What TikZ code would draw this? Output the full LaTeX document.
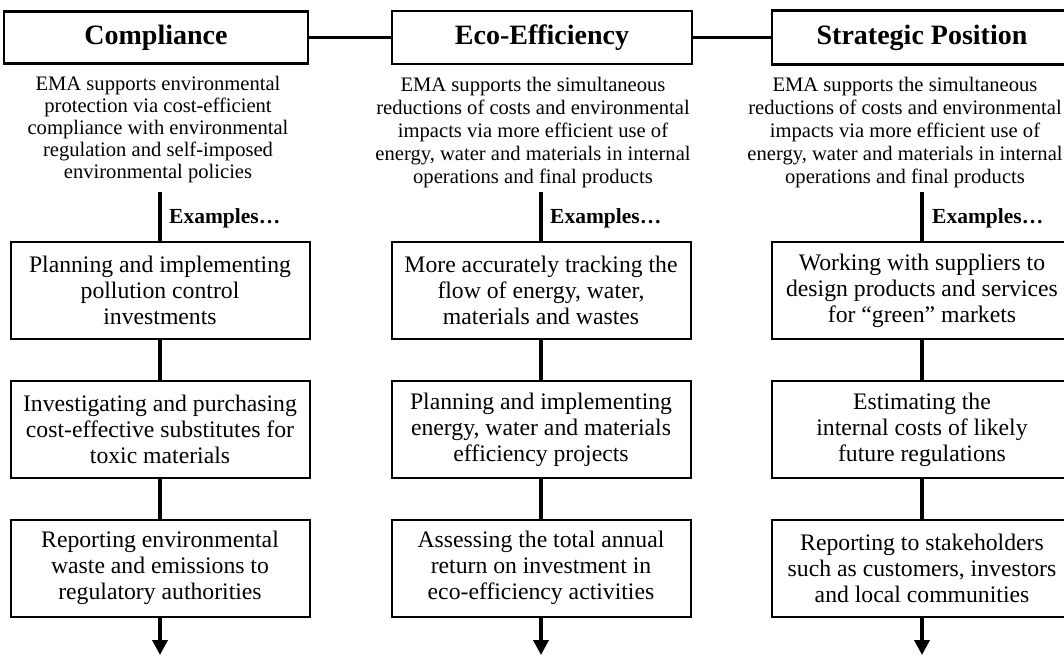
\documentclass[tikz,border=0pt]{standalone}
\usepackage{fontspec}
\setmainfont{Liberation Serif}
\usetikzlibrary{arrows.meta}
\begin{document}
\begin{tikzpicture}[x=1pt,y=-1pt,
  header/.style={draw, line width=2.6pt, minimum width=300pt, minimum height=53pt, inner sep=0pt, font=\bfseries\fontsize{28}{32}\selectfont},
  desc/.style={align=center, inner sep=0pt, font=\fontsize{20.6}{22}\selectfont},
  descw/.style={align=center, inner sep=0pt, font=\fontsize{20.6}{23}\selectfont},
  exbox/.style={draw, line width=2pt, minimum width=299pt, minimum height=97pt, inner sep=0pt, align=center, font=\fontsize{23.7}{26}\selectfont},
  link/.style={line width=3.5pt},
  exlabel/.style={anchor=west, inner sep=0pt, font=\bfseries\fontsize{21.5}{24}\selectfont},
  down/.style={line width=3.5pt, -{Triangle[width=15pt,length=15pt]}}
]
\useasboundingbox (0,0) rectangle (1064,655);
\clip (0,0) rectangle (1064,655);

% headers
\node[header, minimum width=304pt, minimum height=52pt] (h1) at (156,37.5) {Compliance};
\node[header] (h2) at (542,37.5) {Eco-Efficiency};
\node[header, minimum height=54pt] (h3) at (922,37.5) {Strategic Position};
\draw[link] (h1) -- (h2);
\draw[link] (h2) -- (h3);

% descriptions
\node[desc] (d1) at (158,130) {EMA supports environmental\\protection via cost-efficient\\compliance with environmental\\regulation and self-imposed\\environmental policies};
\node[descw] (d2) at (533,133) {EMA supports the simultaneous\\reductions of costs and environmental\\impacts via more efficient use of\\energy, water and materials in internal\\operations and final products};
\node[descw] (d3) at (905,133) {EMA supports the simultaneous\\reductions of costs and environmental\\impacts via more efficient use of\\energy, water and materials in internal\\operations and final products};

% column 1
\node[exbox] (a1) at (160,290.5) {Planning and implementing\\pollution control\\investments};
\node[exbox] (a2) at (160,429.5) {Investigating and purchasing\\cost-effective substitutes for\\toxic materials};
\node[exbox] (a3) at (160,568) {Reporting environmental\\waste and emissions to\\regulatory authorities};
\coordinate (a0) at (160,192);
\coordinate (aend) at (160,655);
\draw[link] (a0) -- (a1.north);
\draw[link] (a1) -- (a2);
\draw[link] (a2) -- (a3);
\draw[down] (a3) -- (aend);
\node[exlabel] (e1) at (169,218) {Examples…};

% column 2
\node[exbox] (b1) at (541,290.5) {More accurately tracking the\\flow of energy, water,\\materials and wastes};
\node[exbox] (b2) at (541,429.5) {Planning and implementing\\energy, water and materials\\efficiency projects};
\node[exbox] (b3) at (541,568) {Assessing the total annual\\return on investment in\\eco-efficiency activities};
\coordinate (b0) at (541,192);
\coordinate (bend) at (541,655);
\draw[link] (b0) -- (b1.north);
\draw[link] (b1) -- (b2);
\draw[link] (b2) -- (b3);
\draw[down] (b3) -- (bend);
\node[exlabel] (e2) at (550,218) {Examples…};

% column 3
\node[exbox, minimum width=300pt] (c1) at (922,290.5) {Working with suppliers to\\design products and services\\for “green” markets};
\node[exbox, minimum width=300pt] (c2) at (922,429.5) {Estimating the\\internal costs of likely\\future regulations};
\node[exbox, minimum width=300pt] (c3) at (922,568) {Reporting to stakeholders\\such as customers, investors\\and local communities};
\coordinate (c0) at (922,192);
\coordinate (cend) at (922,655);
\draw[link] (c0) -- (c1.north);
\draw[link] (c1) -- (c2);
\draw[link] (c2) -- (c3);
\draw[down] (c3) -- (cend);
\node[exlabel] (e3) at (932,218) {Examples…};
\end{tikzpicture}
\end{document}
